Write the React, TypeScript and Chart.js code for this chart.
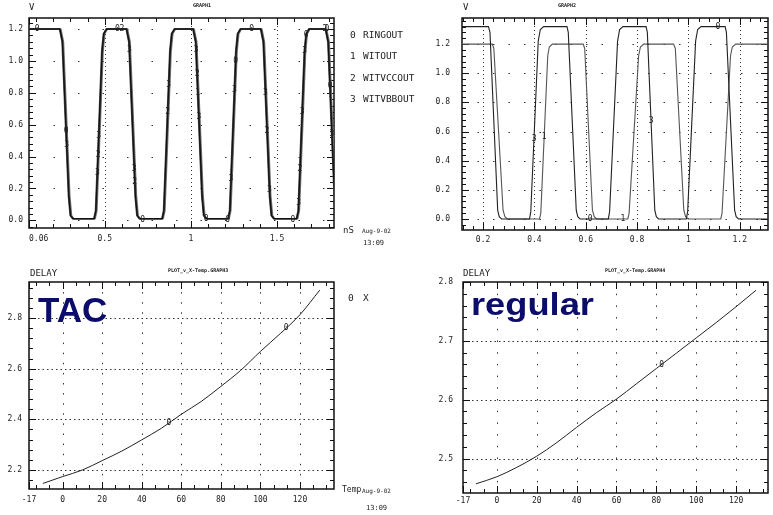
import React, { useEffect, useRef } from 'react';
import { Chart, registerables } from 'chart.js';

Chart.register(...registerables);

const MONO = "'DejaVu Sans Mono', 'Liberation Mono', monospace";
const SANS = "'Liberation Sans', Arial, sans-serif";

// ---------------- GRAPH1 (ring oscillator waveforms) ----------------
const g1XTicks = [0.06, 0.5, 1, 1.5];
const g1XLabels = ['    0.06', '0.5', '1', '1.5'];
const voltTicks = [0, 0.2, 0.4, 0.6, 0.8, 1.0, 1.2];
const voltLabels = ['0.0', '0.2', '0.4', '0.6', '0.8', '1.0', '1.2'];

const ringV = [
  1.2,
  1.2, 1.12, 0.15, 0.03, 0.01, 0.01, 0.06, 1.06, 1.17, 1.2,
  1.2, 1.12, 0.15, 0.03, 0.01, 0.01, 0.06, 1.06, 1.17, 1.2,
  1.2, 1.12, 0.15, 0.03, 0.01, 0.01, 0.06, 1.06, 1.17, 1.2,
  1.2, 1.12, 0.15, 0.03, 0.01, 0.01, 0.06, 1.06, 1.17, 1.2,
  1.2, 1.12, 0.15, 0.03, 0.01,
];
const ringoutT = [
  0.06,
  0.239, 0.254, 0.291, 0.301, 0.315, 0.438, 0.448, 0.484, 0.494, 0.51,
  0.626, 0.641, 0.678, 0.688, 0.702, 0.833, 0.843, 0.879, 0.889, 0.905,
  1.013, 1.028, 1.065, 1.075, 1.089, 1.216, 1.226, 1.262, 1.272, 1.288,
  1.406, 1.421, 1.458, 1.468, 1.482, 1.614, 1.624, 1.66, 1.67, 1.686,
  1.782, 1.797, 1.834, 1.844, 1.858,
];
const witoutT = [
  0.06,
  0.242, 0.257, 0.294, 0.304, 0.318, 0.441, 0.451, 0.487, 0.497, 0.513,
  0.629, 0.644, 0.681, 0.691, 0.705, 0.836, 0.846, 0.882, 0.892, 0.908,
  1.016, 1.031, 1.068, 1.078, 1.092, 1.219, 1.229, 1.265, 1.275, 1.291,
  1.409, 1.424, 1.461, 1.471, 1.485, 1.617, 1.627, 1.663, 1.673, 1.689,
  1.785, 1.8, 1.837, 1.847, 1.861,
];
const witvccoutT = [
  0.06,
  0.246, 0.261, 0.298, 0.308, 0.322, 0.445, 0.455, 0.491, 0.501, 0.517,
  0.633, 0.648, 0.685, 0.695, 0.709, 0.84, 0.85, 0.886, 0.896, 0.912,
  1.02, 1.035, 1.072, 1.082, 1.096, 1.223, 1.233, 1.269, 1.279, 1.295,
  1.413, 1.428, 1.465, 1.475, 1.489, 1.621, 1.631, 1.667, 1.677, 1.693,
  1.789, 1.804, 1.841, 1.851, 1.865,
];
const witvbboutT = [
  0.06,
  0.236, 0.251, 0.288, 0.298, 0.312, 0.435, 0.445, 0.481, 0.491, 0.507,
  0.623, 0.638, 0.675, 0.685, 0.699, 0.83, 0.84, 0.876, 0.886, 0.902,
  1.01, 1.025, 1.062, 1.072, 1.086, 1.213, 1.223, 1.259, 1.269, 1.285,
  1.403, 1.418, 1.455, 1.465, 1.479, 1.611, 1.621, 1.657, 1.667, 1.683,
  1.779, 1.794, 1.831, 1.841, 1.855,
];
const g1Names = ['RINGOUT', 'WITOUT', 'WITVCCOUT', 'WITVBBOUT'];
const g1Marks: [string, number, number][] = [
  ['0', 0.108, 1.2], ['0', 0.573, 1.2], ['2', 0.6, 1.2], ['3', 0.643, 1.07],
  ['0', 0.276, 0.56], ['3', 0.279, 0.47],
  ['3', 0.465, 0.53], ['2', 0.461, 0.41], ['3', 0.457, 0.3],
  ['3', 0.671, 0.32], ['2', 0.674, 0.24], ['0', 0.72, 0.005],
  ['3', 0.871, 0.85], ['2', 0.865, 0.68],
  ['3', 1.03, 1.07], ['2', 1.036, 0.92], ['1', 1.04, 0.8], ['3', 1.046, 0.65],
  ['0', 1.088, 0.01], ['0', 1.214, 0.005],
  ['3', 1.233, 0.26], ['0', 1.26, 1.0], ['3', 1.253, 0.82], ['0', 1.353, 1.2],
  ['3', 1.433, 0.8], ['2', 1.442, 0.56], ['3', 1.456, 0.19],
  ['0', 1.593, 0.005], ['3', 1.626, 0.11], ['2', 1.633, 0.32], ['3', 1.646, 0.68],
  ['3', 1.66, 1.06], ['0', 1.669, 1.16],
  ['2', 1.778, 1.2], ['0', 1.79, 1.2], ['0', 1.808, 0.84], ['3', 1.819, 0.54],
];

// ---------------- GRAPH2 (two waveforms) ----------------
const g2XTicks = [0.2, 0.4, 0.6, 0.8, 1.0, 1.2];
const g2XLabels = ['0.2', '0.4', '0.6', '0.8', '1', '1.2'];
const g2aT = [
  0.118,
  0.221, 0.227, 0.257, 0.263, 0.272, 0.381, 0.386, 0.415, 0.423, 0.436,
  0.527, 0.532, 0.563, 0.569, 0.578, 0.688, 0.693, 0.724, 0.732, 0.745,
  0.835, 0.84, 0.869, 0.875, 0.884, 0.992, 0.997, 1.028, 1.036, 1.049,
  1.143, 1.148, 1.18, 1.186, 1.195,
  1.31,
];
const g2aV = [
  1.32,
  1.32, 1.28, 0.06, 0.015, 0.0, 0.0, 0.05, 1.22, 1.3, 1.32,
  1.32, 1.28, 0.06, 0.015, 0.0, 0.0, 0.05, 1.22, 1.3, 1.32,
  1.32, 1.28, 0.06, 0.015, 0.0, 0.0, 0.05, 1.22, 1.3, 1.32,
  1.32, 1.28, 0.06, 0.015, 0.0,
  0.0,
];
const g2bT = [
  0.118,
  0.236, 0.242, 0.278, 0.285, 0.295, 0.42, 0.425, 0.452, 0.458, 0.47,
  0.59, 0.596, 0.626, 0.633, 0.643, 0.764, 0.769, 0.806, 0.813, 0.826,
  0.942, 0.949, 0.982, 0.989, 0.999, 1.126, 1.131, 1.164, 1.171, 1.184,
  1.31,
];
const g2bV = [
  1.2,
  1.2, 1.17, 0.06, 0.015, 0.0, 0.0, 0.04, 1.12, 1.18, 1.2,
  1.2, 1.17, 0.06, 0.015, 0.0, 0.0, 0.04, 1.12, 1.18, 1.2,
  1.2, 1.17, 0.06, 0.015, 0.0, 0.0, 0.04, 1.12, 1.18, 1.2,
  1.2,
];
const g2Marks: [string, number, number][] = [
  ['3', 0.399, 0.55], ['1', 0.438, 0.56], ['0', 0.617, 0.0], ['1', 0.745, 0.0],
  ['3', 0.8545, 0.67], ['0', 1.115, 1.32],
];

// ---------------- GRAPH3 / GRAPH4 (delay vs temperature) ----------------
const tempTicks = [-17, 0, 20, 40, 60, 80, 100, 120];
const tempLabels = ['-17', '0', '20', '40', '60', '80', '100', '120'];
const tacTemp = [-10, 0, 10, 20, 30, 40, 50, 60, 70, 80, 90, 100, 110, 120, 130];
const tacDelay = [2.147, 2.174, 2.2, 2.237, 2.275, 2.319, 2.365, 2.42, 2.47, 2.53, 2.593, 2.668, 2.738, 2.813, 2.91];
const tacYTicks = [2.2, 2.4, 2.6, 2.8];
const tacYLabels = ['2.2', '2.4', '2.6', '2.8'];
const tacMarks: [string, number, number][] = [['0', 53.7, 2.385], ['0', 113, 2.76]];

const regTemp = [-10.5, 0, 10, 20, 30, 40, 50, 60, 70, 80, 90, 100, 110, 120, 130];
const regDelay = [2.457, 2.469, 2.485, 2.504, 2.527, 2.553, 2.578, 2.601, 2.627, 2.653, 2.679, 2.705, 2.731, 2.758, 2.786];
const regYTicks = [2.5, 2.6, 2.7, 2.8];
const regYLabels = ['2.5', '2.6', '2.7', '2.8'];
const regMarks: [string, number, number][] = [['0', 82.6, 2.659]];

type Series = { t: number[]; v: number[]; color: string; width: number; smooth?: boolean };
type PanelCfg = {
  left: number; top: number; width: number; height: number;
  pad: { left: number; top: number; right: number; bottom: number };
  yWidth: number; xHeight: number; yPad: number; xPad: number;
  xMin: number; xMax: number; yMin: number; yMax: number;
  xTicks: number[]; xLabels: string[]; yTicks: number[]; yLabels: string[];
  xMinor: number; yMinor: number; vDash: number[]; hDash: number[];
  series: Series[]; marks: [string, number, number][];
};

function makeDecor(cfg: PanelCfg) {
  const line = (ctx: CanvasRenderingContext2D, x1: number, y1: number, x2: number, y2: number) => {
    ctx.beginPath(); ctx.moveTo(x1, y1); ctx.lineTo(x2, y2); ctx.stroke();
  };
  return {
    id: 'decor',
    beforeDatasetsDraw(chart: any) {
      const { ctx, chartArea: a } = chart;
      const xs = chart.scales.x; const ys = chart.scales.y;
      ctx.save();
      ctx.strokeStyle = '#333';
      ctx.lineWidth = 1;
      ctx.setLineDash(cfg.vDash);
      for (const v of cfg.xTicks) {
        const p = Math.round(xs.getPixelForValue(v)) + 0.5;
        if (p < a.left + 3 || p > a.right - 3) continue;
        line(ctx, p, a.top, p, a.bottom);
      }
      ctx.setLineDash(cfg.hDash);
      for (const v of cfg.yTicks) {
        const p = Math.round(ys.getPixelForValue(v)) + 0.5;
        if (p < a.top + 3 || p > a.bottom - 3) continue;
        line(ctx, a.left, p, a.right, p);
      }
      ctx.setLineDash([]);
      ctx.strokeStyle = '#111';
      const kx0 = Math.ceil(xs.min / cfg.xMinor - 1e-6), kx1 = Math.floor(xs.max / cfg.xMinor + 1e-6);
      for (let k = kx0; k <= kx1; k++) {
        const p = Math.round(xs.getPixelForValue(k * cfg.xMinor)) + 0.5;
        line(ctx, p, a.top, p, a.top + 4);
        line(ctx, p, a.bottom, p, a.bottom - 4);
      }
      const ky0 = Math.ceil(ys.min / cfg.yMinor - 1e-6), ky1 = Math.floor(ys.max / cfg.yMinor + 1e-6);
      for (let k = ky0; k <= ky1; k++) {
        const p = Math.round(ys.getPixelForValue(k * cfg.yMinor)) + 0.5;
        line(ctx, a.left, p, a.left + 4, p);
        line(ctx, a.right, p, a.right - 4, p);
      }
      for (const v of cfg.yTicks) {
        const p = Math.round(ys.getPixelForValue(v)) + 0.5;
        line(ctx, a.left, p, a.left + 7, p);
        line(ctx, a.right, p, a.right - 7, p);
      }
      for (const v of cfg.xTicks) {
        const p = Math.round(xs.getPixelForValue(v)) + 0.5;
        line(ctx, p, a.top, p, a.top + 7);
        line(ctx, p, a.bottom, p, a.bottom - 7);
      }
      ctx.lineWidth = 1.5;
      ctx.strokeRect(a.left, a.top, a.right - a.left, a.bottom - a.top);
      ctx.restore();
    },
    afterDatasetsDraw(chart: any) {
      const { ctx } = chart;
      const xs = chart.scales.x; const ys = chart.scales.y;
      ctx.save();
      ctx.font = `8px ${MONO}`;
      ctx.fillStyle = '#222';
      ctx.textAlign = 'center';
      ctx.textBaseline = 'middle';
      for (const [s, t, v] of cfg.marks) {
        ctx.fillText(s, xs.getPixelForValue(t), ys.getPixelForValue(v));
      }
      ctx.restore();
    },
  };
}

function Panel({ cfg }: { cfg: PanelCfg }) {
  const ref = useRef<HTMLCanvasElement | null>(null);
  useEffect(() => {
    if (!ref.current) return;
    const tickFont = { family: MONO, size: 8 };
    const chart = new Chart(ref.current, {
      type: 'line',
      data: {
        datasets: cfg.series.map((s) => ({
          data: s.t.map((t, i) => ({ x: t, y: s.v[i] })),
          borderColor: s.color,
          borderWidth: s.width,
          pointRadius: 0,
          fill: false,
          tension: s.smooth ? 0.4 : 0,
          cubicInterpolationMode: s.smooth ? 'monotone' : 'default',
        })),
      },
      options: {
        responsive: false,
        animation: false,
        events: [],
        layout: { padding: cfg.pad },
        plugins: { legend: { display: false }, tooltip: { enabled: false } },
        scales: {
          x: {
            type: 'linear', min: cfg.xMin, max: cfg.xMax, bounds: 'data',
            grid: { display: false, drawTicks: false }, border: { display: false },
            afterBuildTicks: (s: any) => { s.ticks = cfg.xTicks.map((v) => ({ value: v })); },
            afterFit: (s: any) => { s.height = cfg.xHeight; },
            ticks: {
              autoSkip: false, maxRotation: 0, minRotation: 0, padding: cfg.xPad, color: '#222', font: tickFont,
              callback: (_v: any, i: number) => cfg.xLabels[i],
            },
          },
          y: {
            type: 'linear', min: cfg.yMin, max: cfg.yMax, bounds: 'data',
            grid: { display: false, drawTicks: false }, border: { display: false },
            afterBuildTicks: (s: any) => { s.ticks = cfg.yTicks.map((v) => ({ value: v })); },
            afterFit: (s: any) => { s.width = cfg.yWidth; },
            ticks: {
              autoSkip: false, padding: cfg.yPad, color: '#222', font: tickFont,
              callback: (_v: any, i: number) => cfg.yLabels[i],
            },
          },
        },
      } as any,
      plugins: [makeDecor(cfg) as any],
    });
    return () => chart.destroy();
  }, [cfg]);
  return (
    <canvas
      ref={ref}
      width={cfg.width}
      height={cfg.height}
      style={{ position: 'absolute', left: cfg.left, top: cfg.top, width: cfg.width, height: cfg.height }}
    />
  );
}

const panel1: PanelCfg = {
  left: 0, top: 0, width: 390, height: 250,
  pad: { left: 0, top: 18, right: 56, bottom: 0 },
  yWidth: 29, xHeight: 22, yPad: 6, xPad: 6,
  xMin: 0.06, xMax: 1.831, yMin: -0.048, yMax: 1.269,
  xTicks: g1XTicks, xLabels: g1XLabels, yTicks: voltTicks, yLabels: voltLabels,
  xMinor: 0.1, yMinor: 0.04, vDash: [1, 3], hDash: [1.5, 23],
  series: [
    { t: ringoutT, v: ringV, color: '#111', width: 1.3 },
    { t: witoutT, v: ringV, color: '#444', width: 1.2 },
    { t: witvccoutT, v: ringV, color: '#777', width: 1.2 },
    { t: witvbboutT, v: ringV, color: '#555', width: 1.2 },
  ],
  marks: g1Marks,
};

const panel2: PanelCfg = {
  left: 390, top: 0, width: 383, height: 250,
  pad: { left: 0, top: 18, right: 5, bottom: 0 },
  yWidth: 72, xHeight: 20, yPad: 12, xPad: 5,
  xMin: 0.118, xMax: 1.31, yMin: -0.076, yMax: 1.379,
  xTicks: g2XTicks, xLabels: g2XLabels, yTicks: voltTicks, yLabels: voltLabels,
  xMinor: 0.04, yMinor: 0.04, vDash: [1, 3], hDash: [1.5, 14],
  series: [
    { t: g2aT, v: g2aV, color: '#222', width: 1.1 },
    { t: g2bT, v: g2bV, color: '#555', width: 1.1 },
  ],
  marks: g2Marks,
};

const panel3: PanelCfg = {
  left: 0, top: 250, width: 390, height: 265,
  pad: { left: 0, top: 32, right: 56, bottom: 0 },
  yWidth: 29, xHeight: 26, yPad: 7, xPad: 6,
  xMin: -17, xMax: 137.2, yMin: 2.125, yMax: 2.942,
  xTicks: tempTicks, xLabels: tempLabels, yTicks: tacYTicks, yLabels: tacYLabels,
  xMinor: 20 / 3, yMinor: 0.04, vDash: [1.5, 8.6], hDash: [1.5, 3],
  series: [{ t: tacTemp, v: tacDelay, color: '#222', width: 1, smooth: true }],
  marks: tacMarks,
};

const panel4: PanelCfg = {
  left: 390, top: 250, width: 383, height: 265,
  pad: { left: 0, top: 32, right: 5, bottom: 0 },
  yWidth: 73, xHeight: 22, yPad: 10, xPad: 3,
  xMin: -17, xMax: 136, yMin: 2.4414, yMax: 2.8,
  xTicks: tempTicks, xLabels: tempLabels, yTicks: regYTicks, yLabels: regYLabels,
  xMinor: 20 / 3, yMinor: 0.02, vDash: [1.5, 10.2], hDash: [1.5, 3],
  series: [{ t: regTemp, v: regDelay, color: '#222', width: 1, smooth: true }],
  marks: regMarks,
};

function Txt({ x, y, size, children, bold, color, family, extra }: any) {
  return (
    <div
      style={{
        position: 'absolute', left: x, top: y - size * 0.5, fontSize: size, lineHeight: `${size}px`,
        fontFamily: family || MONO, fontWeight: bold ? 'bold' : 'normal', color: color || '#222',
        whiteSpace: 'pre', ...(extra || {}),
      }}
    >
      {children}
    </div>
  );
}

export default function App() {
  return (
    <div style={{ position: 'fixed', left: 0, top: 0, width: 773, height: 515, background: '#fff', overflow: 'hidden' }}>
      <Panel cfg={panel1} />
      <Panel cfg={panel2} />
      <Panel cfg={panel3} />
      <Panel cfg={panel4} />

      <Txt x={29} y={7} size={9}>V</Txt>
      <Txt x={193} y={5} size={5} bold>GRAPH1</Txt>
      {g1Names.map((n, i) => (
        <React.Fragment key={n}>
          <Txt x={350} y={[35, 56, 77.5, 99][i]} size={9.5}>{String(i)}</Txt>
          <Txt x={363} y={[35, 56, 77.5, 99][i]} size={9.5}>{n}</Txt>
        </React.Fragment>
      ))}
      <Txt x={343} y={230} size={9}>nS</Txt>
      <Txt x={362} y={231} size={6}>Aug-9-02</Txt>
      <Txt x={363} y={243} size={7}>13:09</Txt>

      <Txt x={463} y={7} size={9}>V</Txt>
      <Txt x={558} y={5} size={5} bold>GRAPH2</Txt>

      <Txt x={30} y={273} size={9}>DELAY</Txt>
      <Txt x={168} y={270} size={5} bold>PLOT_v_X-Temp.GRAPH3</Txt>
      <Txt x={348} y={298} size={9.5}>0</Txt>
      <Txt x={363} y={298} size={9.5}>X</Txt>
      <Txt x={342} y={490} size={8}>Temp</Txt>
      <Txt x={362} y={491} size={6}>Aug-9-02</Txt>
      <Txt x={366} y={508} size={7}>13:09</Txt>

      <Txt x={463} y={273} size={9}>DELAY</Txt>
      <Txt x={605} y={270} size={5} bold>PLOT_v_X-Temp.GRAPH4</Txt>

      <div style={{ position: 'absolute', left: 38, top: 292, fontFamily: SANS, fontWeight: 'bold', fontSize: 35, lineHeight: '35px', color: '#0c0c6c' }}>TAC</div>
      <div style={{ position: 'absolute', left: 471, top: 289, fontFamily: SANS, fontWeight: 'bold', fontSize: 31, lineHeight: '31px', color: '#0c0c6c', transform: 'scaleX(1.17)', transformOrigin: 'left center' }}>regular</div>
    </div>
  );
}
